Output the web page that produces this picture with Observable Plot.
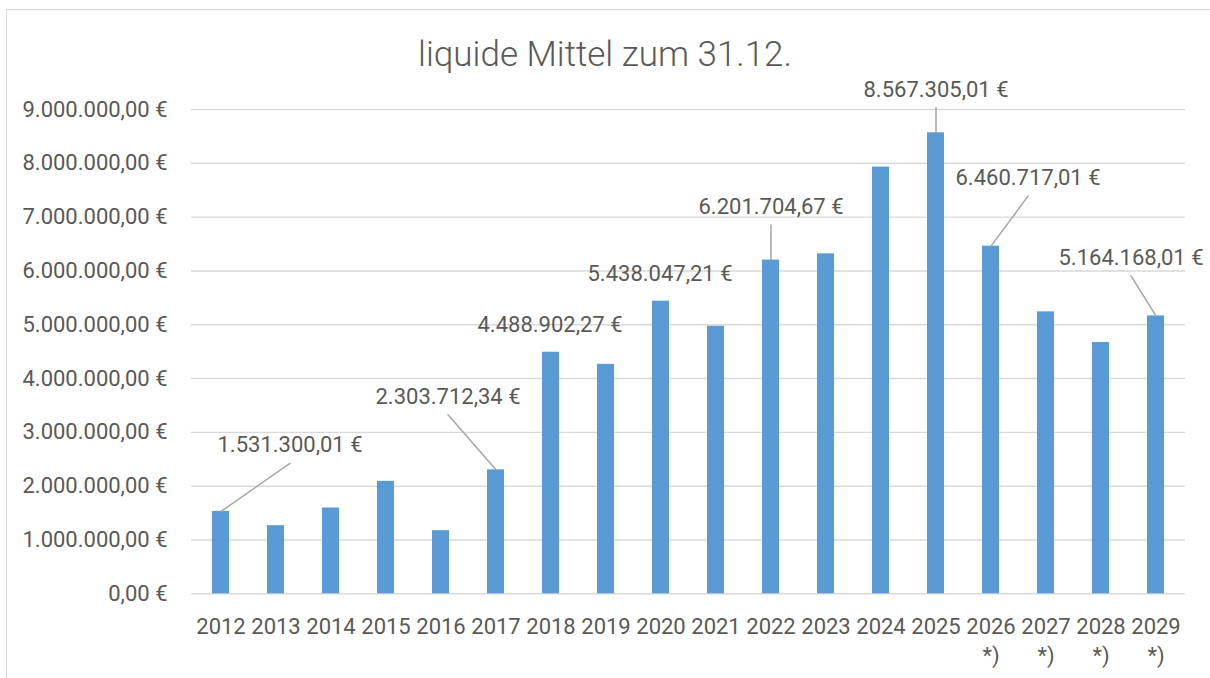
<!DOCTYPE html>
<html>
<head>
<meta charset="utf-8">
<script src="https://cdn.jsdelivr.net/npm/d3@7"></script>
<script src="https://cdn.jsdelivr.net/npm/@observablehq/plot@0.6"></script>
<style>
  html, body { margin: 0; padding: 0; background: #fff; }
  #wrap { position: relative; width: 1210px; height: 678px; overflow: hidden; padding-top: 75px; box-sizing: border-box; }
  #frame { position: absolute; left: 6px; top: 9px; width: 1300px; height: 800px;
           border-top: 1.5px solid #d9d9d9; border-left: 1.5px solid #d9d9d9; }
  #title { position: absolute; left: 0; top: 37px; width: 1210px; text-align: center;
           font-family: Roboto, sans-serif; font-weight: 300; font-size: 35px; line-height: 35px; color: #595959; }
  #chart svg { display: block; }
</style>
</head>
<body>
<div id="wrap">
  <div id="frame"></div>
  <div id="title">liquide Mittel zum 31.12.</div>
  <div id="chart"></div>
</div>
<script>
// ---- data ----
const years = ["2012","2013","2014","2015","2016","2017","2018","2019","2020","2021","2022","2023","2024","2025","2026","2027","2028","2029"];
const values = [1531300.01, 1266000, 1594000, 2090000, 1173000, 2303712.34, 4488902.27, 4264000, 5438047.21, 4972000, 6201704.67, 6318000, 7930000, 8567305.01, 6460717.01, 5240000, 4670000, 5164168.01];
const forecastYears = ["2026","2027","2028","2029"];
const yTicks = [0, 1000000, 2000000, 3000000, 4000000, 5000000, 6000000, 7000000, 8000000, 9000000];
const labelledYears = ["2012","2017","2018","2020","2022","2025","2026","2029"];

// ---- label placement (pixel offsets from bar top; styling only) ----
const labelLayout = {
  "2012": {dx: 69, dy: -66, leader: true},
  "2017": {dx: -48, dy: -73, leader: true},
  "2018": {dx: -1, dy: -27, leader: false},
  "2020": {dx: -1, dy: -27, leader: false},
  "2022": {dx: 0, dy: -53, leader: true},
  "2025": {dx: 0, dy: -43, leader: true},
  "2026": {dx: 37, dy: -68, leader: true},
  "2029": {dx: -25, dy: -58, leader: true}
};

const de = d3.formatLocale({decimal: ",", thousands: ".", grouping: [3], currency: ["", " €"]});
const euro = de.format("$,.2f");

const data = years.map((year, i) => ({year, value: values[i]}));
const byYear = new Map(data.map(d => [d.year, d]));

const leaderShape = {
  draw(context, l) { context.moveTo(0, 0); context.lineTo(0, -l); }
};

const labelMarks = [];
for (const y of labelledYears) {
  const row = byYear.get(y);
  const L = labelLayout[y];
  if (L.leader) {
    const ex = L.dx, ey = L.dy + 18;
    const len = Math.hypot(ex, ey);
    const ang = Math.atan2(ex, -ey) * 180 / Math.PI;
    labelMarks.push(Plot.vector([row], {
      x: "year", y: "value", length: len, rotate: ang, anchor: "start",
      shape: leaderShape, stroke: "#a6a6a6", strokeWidth: 1.5
    }));
  }
  labelMarks.push(Plot.text([row], {
    x: "year", y: "value", text: d => euro(d.value), dx: L.dx, dy: L.dy,
    fill: "#595959", fontSize: 22
  }));
}

const chart = Plot.plot({
  width: 1210,
  height: 603,
  marginLeft: 191,
  marginRight: 25,
  marginTop: 34,
  marginBottom: 84.7,
  style: {fontFamily: "Roboto, sans-serif", fontSize: "22px", color: "#595959", background: "transparent"},
  x: {domain: years, paddingInner: 0.685, paddingOuter: 0.3425, label: null},
  y: {domain: [0, 9000000], label: null},
  marks: [
    Plot.gridY(yTicks, {stroke: "#d9d9d9", strokeOpacity: 1, strokeWidth: 1.4}),
    Plot.barY(data, {x: "year", y: "value", fill: "#5b9bd5"}),
    Plot.axisY(yTicks, {tickSize: 0, tickPadding: 24, tickFormat: euro, fill: "#595959", fontSize: 22}),
    Plot.axisX({tickSize: 0, tickPadding: 20, lineHeight: 1.3, fill: "#595959", fontSize: 22,
      tickFormat: y => forecastYears.includes(y) ? y + "\n*)" : y}),
    ...labelMarks
  ]
});
document.getElementById("chart").appendChild(chart);
</script>
</body>
</html>
